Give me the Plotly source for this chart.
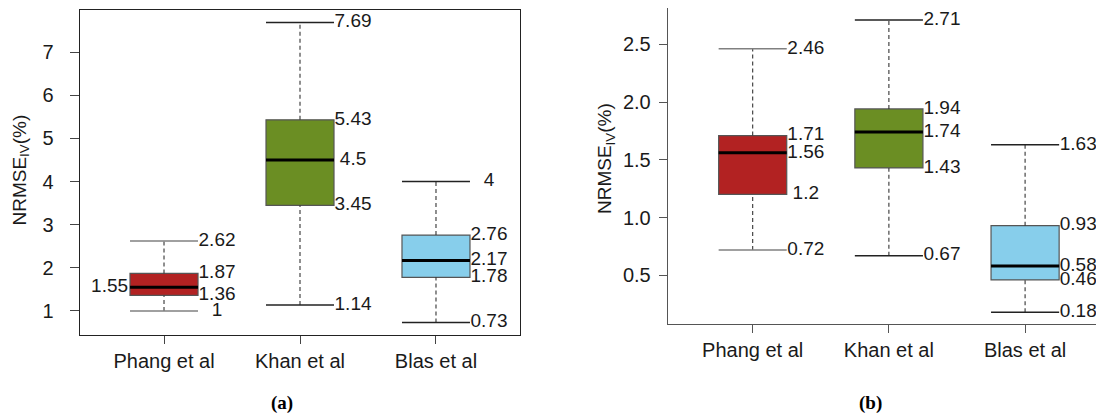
import plotly.graph_objects as go

# ---------------- data ----------------
categories = ["Phang et al", "Khan et al", "Blas et al"]
positions = [1, 2, 3]
box_colors = ["#B22222", "#6B8E23", "#87CEEB"]

# panel (a)
a_low = [1.0, 1.14, 0.73]
a_q1 = [1.36, 3.45, 1.78]
a_med = [1.55, 4.5, 2.17]
a_q3 = [1.87, 5.43, 2.76]
a_high = [2.62, 7.69, 4.0]
a_yticks = [1, 2, 3, 4, 5, 6, 7]

# panel (b)
b_low = [0.72, 0.67, 0.18]
b_q1 = [1.2, 1.43, 0.46]
b_med = [1.56, 1.74, 0.58]
b_q3 = [1.71, 1.94, 0.93]
b_high = [2.46, 2.71, 1.63]
b_yticks = [0.5, 1.0, 1.5, 2.0, 2.5]

# ---------------- style ----------------
FONT = "Liberation Sans, Arial, sans-serif"
TXT = "#1a1a1a"
BW = 0.5          # box width (data units)
LAB_DX = 0.39     # label offset from box centre
staple_cols = ["#808080", "#222222", "#222222"]

# page offset (body margin) and figure size
OX, OY = 8, 8
W, H = 1096, 406


def px(x):
    return (x - OX) / W


def py(y):
    return (H - (y - OY)) / H


fig = go.Figure()


def add_panel(xref, yref, low, q1, med, q3, high, left_median_label):
    for i, p in enumerate(positions):
        # dashed whiskers
        for a, b in ((q3[i], high[i]), (low[i], q1[i])):
            fig.add_trace(go.Scatter(x=[p, p], y=[a, b], mode="lines",
                                     line=dict(color="#333333", width=1.1, dash="4px,3px"),
                                     xaxis=xref, yaxis=yref, hoverinfo="skip"))
        # staples
        for v in (high[i], low[i]):
            fig.add_trace(go.Scatter(x=[p - BW / 2, p + BW / 2], y=[v, v], mode="lines",
                                     line=dict(color=staple_cols[i], width=1.5),
                                     xaxis=xref, yaxis=yref, hoverinfo="skip"))
        # box
        fig.add_trace(go.Box(x=[p], q1=[q1[i]], median=[med[i]], q3=[q3[i]],
                             lowerfence=[q1[i]], upperfence=[q3[i]],
                             width=BW, whiskerwidth=0,
                             fillcolor=box_colors[i],
                             line=dict(color="#555555", width=1.2),
                             boxpoints=False, xaxis=xref, yaxis=yref,
                             hoverinfo="skip"))
        # median line
        fig.add_trace(go.Scatter(x=[p - BW / 2, p + BW / 2], y=[med[i], med[i]], mode="lines",
                                 line=dict(color="#000000", width=3),
                                 xaxis=xref, yaxis=yref, hoverinfo="skip"))
        # value labels
        vals = [high[i], q3[i], med[i], q1[i], low[i]]
        xs = []
        for k, v in enumerate(vals):
            if k == 2 and left_median_label and i == 0:
                xs.append(p - 0.40)
            else:
                xs.append(p + LAB_DX)
        fig.add_trace(go.Scatter(x=xs, y=vals, mode="text",
                                 text=["{:g}".format(v) for v in vals],
                                 textposition="middle center",
                                 textfont=dict(family=FONT, size=19, color=TXT),
                                 xaxis=xref, yaxis=yref, hoverinfo="skip"))


add_panel("x", "y", a_low, a_q1, a_med, a_q3, a_high, True)
add_panel("x2", "y2", b_low, b_q1, b_med, b_q3, b_high, False)

axis_common = dict(showgrid=False, zeroline=False, ticks="outside", showline=True,
                   tickfont=dict(family=FONT, size=20, color=TXT))

# right panel: frame runs off the right edge of the picture
x2_right = 0.376 + (OX + W - 667.7) / 136.2

fig.update_layout(
    width=W, height=H,
    margin=dict(l=0, r=0, t=0, b=0),
    paper_bgcolor="white", plot_bgcolor="white",
    showlegend=False,
    xaxis=dict(domain=[px(79.7), px(520.3)], range=[0.38, 3.62],
               tickvals=positions, ticktext=categories, mirror=True,
               linecolor="#222222", tickcolor="#444444", ticklen=8, anchor="y",
               **axis_common),
    yaxis=dict(domain=[py(334.7), py(10.3)], range=[0.45, 7.97],
               tickvals=a_yticks, mirror=True, linecolor="#222222",
               tickcolor="#444444", ticklen=9, ticklabelstandoff=12, anchor="x",
               **axis_common),
    xaxis2=dict(domain=[px(667.7), 1.0], range=[0.376, x2_right],
                tickvals=positions, ticktext=categories, mirror=True,
                linecolor="#555555", tickcolor="#555555", ticklen=8, anchor="y2",
                **axis_common),
    yaxis2=dict(domain=[py(324), py(8.3)], range=[0.079, 2.811],
                tickvals=b_yticks, tickformat=".1f", mirror=False,
                linecolor="#555555", tickcolor="#555555", ticklen=8,
                ticklabelstandoff=4, anchor="x2",
                **axis_common),
)

ytitle = "NRMSE<sub>IV</sub>(%)"
fig.add_annotation(text=ytitle, x=px(20), y=py(170.5), xref="paper", yref="paper",
                   textangle=-90, showarrow=False, xanchor="center", yanchor="middle",
                   font=dict(family=FONT, size=19, color=TXT))
fig.add_annotation(text=ytitle, x=px(606), y=py(159), xref="paper", yref="paper",
                   textangle=-90, showarrow=False, xanchor="center", yanchor="middle",
                   font=dict(family=FONT, size=19, color=TXT))

CAP = "Liberation Serif, Times New Roman, serif"
fig.add_annotation(text="<b>(a)</b>", x=px(282), y=py(403), xref="paper", yref="paper",
                   showarrow=False, xanchor="center", yanchor="middle",
                   font=dict(family=CAP, size=19, color="#000000"))
fig.add_annotation(text="<b>(b)</b>", x=px(870), y=py(403), xref="paper", yref="paper",
                   showarrow=False, xanchor="center", yanchor="middle",
                   font=dict(family=CAP, size=19, color="#000000"))

fig.write_html("out.html")
